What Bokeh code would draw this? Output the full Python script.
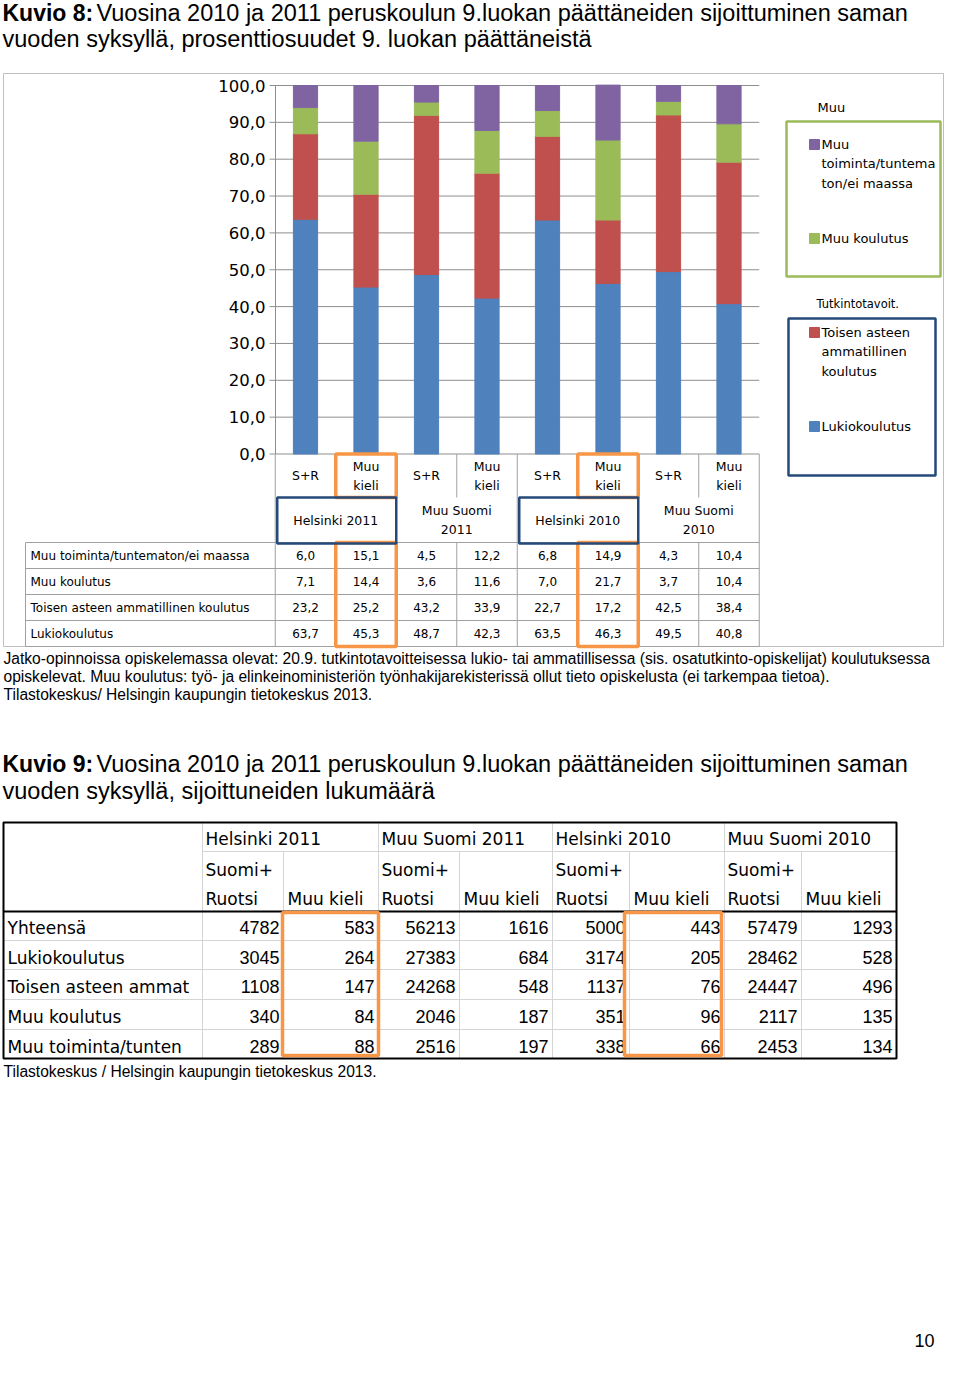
from bokeh.plotting import figure
from bokeh.models import Range1d, ColumnDataSource
from bokeh.core.properties import value
from bokeh.embed import file_html
from bokeh.resources import INLINE

# ---------------- Kuvio 8 data (percent) ----------------
groups8 = ["Helsinki 2011", "Muu Suomi 2011", "Helsinki 2010", "Muu Suomi 2010"]
bar_labels = ["S+R", "Muu kieli", "S+R", "Muu kieli", "S+R", "Muu kieli", "S+R", "Muu kieli"]
series_labels = ["Muu toiminta/tuntematon/ei maassa", "Muu koulutus",
                 "Toisen asteen ammatillinen koulutus", "Lukiokoulutus"]
muu_toiminta = [6.0, 15.1, 4.5, 12.2, 6.8, 14.9, 4.3, 10.4]
muu_koulutus = [7.1, 14.4, 3.6, 11.6, 7.0, 21.7, 3.7, 10.4]
toisen_aste = [23.2, 25.2, 43.2, 33.9, 22.7, 17.2, 42.5, 38.4]
lukio = [63.7, 45.3, 48.7, 42.3, 63.5, 46.3, 49.5, 40.8]
y_ticks = [0, 10, 20, 30, 40, 50, 60, 70, 80, 90, 100]

# ---------------- Kuvio 9 data (counts) ----------------
groups9 = ["Helsinki 2011", "Muu Suomi 2011", "Helsinki 2010", "Muu Suomi 2010"]
row_labels9 = ["Yhteensä", "Lukiokoulutus", "Toisen asteen ammat", "Muu koulutus", "Muu toiminta/tunten"]
yhteensa_n = [4782, 583, 56213, 1616, 5000, 443, 57479, 1293]
lukio_n = [3045, 264, 27383, 684, 3174, 205, 28462, 528]
toisen_n = [1108, 147, 24268, 548, 1137, 76, 24447, 496]
muu_koulutus_n = [340, 84, 2046, 187, 351, 96, 2117, 135]
muu_toiminta_n = [289, 88, 2516, 197, 338, 66, 2453, 134]

title8 = ["Kuvio 8:", "Vuosina 2010 ja 2011 peruskoulun 9.luokan päättäneiden sijoittuminen saman",
          "vuoden syksyllä, prosenttiosuudet 9. luokan päättäneistä"]
title9 = ["Kuvio 9:", "Vuosina 2010 ja 2011 peruskoulun 9.luokan päättäneiden sijoittuminen saman",
          "vuoden syksyllä, sijoittuneiden lukumäärä"]
notes8 = ["Jatko-opinnoissa opiskelemassa olevat: 20.9. tutkintotavoitteisessa lukio- tai ammatillisessa (sis. osatutkinto-opiskelijat) koulutuksessa",
          "opiskelevat. Muu koulutus: työ- ja elinkeinoministeriön työnhakijarekisterissä ollut tieto opiskelusta (ei tarkempaa tietoa).",
          "Tilastokeskus/ Helsingin kaupungin tietokeskus 2013."]
source9 = "Tilastokeskus / Helsingin kaupungin tietokeskus 2013."
page_no = "10"

# ---------------- colours ----------------
BLUE, RED, GREEN, PURPLE = "#4F81BD", "#C0504D", "#9BBB59", "#8064A2"
ORANGE, NAVY = "#F79646", "#254A7A"
GRID, TLINE, T2LINE = "#8E8E8E", "#A0A0A0", "#D4D4D4"

# ---------------- canvas ----------------
W, H = 944, 1358
p = figure(width=W, height=H, x_range=Range1d(0, W), y_range=Range1d(H, 0),
           output_backend="svg", toolbar_location=None, x_axis_type=None, y_axis_type=None,
           min_border=0)
p.outline_line_color = None
p.background_fill_color = "white"

# bar chart scales (extra ranges)
BAR_X0, BAR_STEP = 305.0, 60.5
PCT_Y0, PCT_Y100 = 453.5, 85.0
ppu = (PCT_Y0 - PCT_Y100) / 100.0
cat_start = -BAR_X0 / BAR_STEP
p.extra_x_ranges = {"cat": Range1d(cat_start, cat_start + W / BAR_STEP)}
p.extra_y_ranges = {"pct": Range1d(-(H - PCT_Y0) / ppu, 100 + PCT_Y100 / ppu)}


def px(i):
    return BAR_X0 + i * BAR_STEP


def txt(xs, ys, texts, size, font="DejaVu Sans", align="left", style="normal", **kw):
    def L(v):
        return list(v) if isinstance(v, (list, tuple)) else [v]
    xs, ys, texts = L(xs), L(ys), L(texts)
    n = max(len(xs), len(ys), len(texts))
    xs = xs * n if len(xs) == 1 else xs
    ys = ys * n if len(ys) == 1 else ys
    texts = texts * n if len(texts) == 1 else texts
    p.text(x=xs, y=ys, text=texts, text_font=value(font), text_font_size=f"{size}px",
           text_align=align, text_baseline="middle", text_color="#000000",
           text_font_style=style, **kw)


def seg(x0, y0, x1, y1, color, width=1.0, **kw):
    p.segment(x0=x0, y0=y0, x1=x1, y1=y1, line_color=color, line_width=width, **kw)


def box(l, r, t, b, color, width):
    p.quad(left=[l], right=[r], top=[t], bottom=[b], fill_color=None, line_color=color, line_width=width)


def fmt(v):
    return f"{v:.1f}".replace(".", ",")


# ---------------- titles ----------------
txt(2, 12, title8[0], 23, font="Liberation Sans", style="bold")
txt(96, 12, title8[1], 23.5, font="Liberation Sans")
txt(2, 38, title8[2], 23.5, font="Liberation Sans")

# chart outer border
box(3, 943, 73, 646, "#BFBFBF", 1)

# ---------------- gridlines, ticks, axis ----------------
seg([269] * len(y_ticks), y_ticks, [px(7.5)] * len(y_ticks), y_ticks, GRID, 1, y_range_name="pct")
seg([275], [0], [275], [100], GRID, 1, y_range_name="pct")
txt([265] * len(y_ticks), y_ticks, [fmt(t) for t in y_ticks], 16.5, y_range_name="pct", align="right")

# ---------------- stacked bars ----------------
src = ColumnDataSource(dict(x=list(range(len(lukio))), lukio=lukio, toisen=toisen_aste,
                            muu_koulutus=muu_koulutus, muu_toiminta=muu_toiminta))
p.vbar_stack(["lukio", "toisen", "muu_koulutus", "muu_toiminta"], x="x", width=0.4,
             color=[BLUE, RED, GREEN, PURPLE], source=src, x_range_name="cat", y_range_name="pct")

# ---------------- category / data table lines ----------------
n = len(bar_labels)
grp_b = [px(k - 0.5) for k in range(0, n + 1, 2)]
in_b = [px(k + 0.5) for k in range(0, n, 2)]
seg(grp_b, [PCT_Y0] * len(grp_b), grp_b, [646] * len(grp_b), TLINE)
seg(in_b, [PCT_Y0] * len(in_b), in_b, [497] * len(in_b), TLINE)
seg(in_b, [542] * len(in_b), in_b, [646] * len(in_b), TLINE)
row_lines = [542, 568, 594, 620, 646]
seg([25] * 5, row_lines, [px(7.5)] * 5, row_lines, TLINE)
seg([25], [542], [25], [646], TLINE)

# category labels
for i, lab in enumerate(bar_labels):
    parts = lab.split(" ")
    if len(parts) == 1:
        txt(i, 475, lab, 12.5, x_range_name="cat", align="center")
    else:
        txt([i, i], [466, 485], parts, 12.5, x_range_name="cat", align="center")
for g, name in enumerate(groups8):
    xc = 2 * g + 0.5
    if name.startswith("Muu"):
        a, b = name.rsplit(" ", 1)
        txt([xc, xc], [510, 529], [a, b], 12.5, x_range_name="cat", align="center")
    else:
        txt(xc, 520, name, 12.5, x_range_name="cat", align="center")

# data table
table_rows = [muu_toiminta, muu_koulutus, toisen_aste, lukio]
row_y = [555, 581, 607, 633]
for r, (lab, vals) in enumerate(zip(series_labels, table_rows)):
    txt(30, row_y[r], lab, 12)
    txt(list(range(n)), row_y[r], [fmt(v) for v in vals], 12, x_range_name="cat", align="center")

# highlight boxes
for g in (0, 2):
    i = 2 * g + 1
    box(px(i - 0.5), px(i + 0.5), PCT_Y0, 497, ORANGE, 3.5)
    box(px(i - 0.5), px(i + 0.5), 542, 646, ORANGE, 3.5)
    box(px(2 * g - 0.5) + 2, px(2 * g + 1.5), 497, 543, NAVY, 2.5)

# ---------------- legend ----------------
txt(817, 107, "Muu", 13)
box(786, 940, 121, 276, GREEN, 2.5)
box(788, 935, 318, 475, NAVY, 2.5)
txt(816, 303, "Tutkintotavoit.", 11.5)
s0 = series_labels[0]
legend_items = [
    ([s0[:3], s0[4:20], s0[20:]], PURPLE, 144),
    ([series_labels[1]], GREEN, 238),
    (["Toisen asteen", "ammatillinen", "koulutus"], RED, 332),
    ([series_labels[3]], BLUE, 426),
]
for lines, col, y in legend_items:
    p.quad(left=[809], right=[819], top=[y - 5], bottom=[y + 5], fill_color=col, line_color=col)
    txt([821] * len(lines), [y + 19.3 * k for k in range(len(lines))], lines, 13)

# ---------------- notes ----------------
txt([3] * 3, [658, 676, 694], notes8, 15.6, font="Liberation Sans")

# ---------------- Kuvio 9 title ----------------
txt(2, 763, title9[0], 23, font="Liberation Sans", style="bold")
txt(96, 763, title9[1], 23.5, font="Liberation Sans")
txt(2, 790, title9[2], 23.5, font="Liberation Sans")

# ---------------- Kuvio 9 table ----------------
cols = [3, 202, 283, 378, 459, 552, 629, 724, 801, 896]
T_TOP, T_HDR1, T_HDR, T_BOT = 822, 851, 911, 1058
rows_b = [940, 969, 999, 1029]
# header lines
seg(cols[1:-1:2], [T_TOP] * 4, cols[1:-1:2], [T_HDR] * 4, T2LINE)
seg(cols[2:-1:2], [T_HDR1] * 4, cols[2:-1:2], [T_HDR] * 4, T2LINE)
seg([cols[1]], [T_HDR1], [cols[-1]], [T_HDR1], T2LINE)
# body lines
seg(cols[1:-1], [T_HDR] * 8, cols[1:-1], [T_BOT] * 8, T2LINE)
seg([cols[0]] * 4, rows_b, [cols[-1]] * 4, rows_b, T2LINE)
seg([cols[0]], [T_HDR], [cols[-1]], [T_HDR], "#000000", 2)
box(cols[0], cols[-1], T_TOP, T_BOT, "#000000", 2)

for g, name in enumerate(groups9):
    c = cols[1 + 2 * g]
    txt(c + 3, 838, name, 17)
    txt([c + 3, c + 3], [869, 898], ["Suomi+", "Ruotsi"], 17)
    txt(cols[2 + 2 * g] + 4, 898, "Muu kieli", 17)

data9 = [yhteensa_n, lukio_n, toisen_n, muu_koulutus_n, muu_toiminta_n]
ry = [927, 957, 986, 1016, 1046]
for r, (lab, vals) in enumerate(zip(row_labels9, data9)):
    txt(7, ry[r], lab, 17)
    txt([c - 4 for c in cols[2:]], ry[r], [str(v) for v in vals], 18, font="Liberation Sans", align="right")

box(cols[2] - 1, cols[3], 912, 1055, ORANGE, 3.5)
box(cols[6] - 5, cols[7] - 3, 912, 1055, ORANGE, 3.5)

txt(3, 1071, source9, 15.6, font="Liberation Sans")
txt(934, 1340, page_no, 18, font="Liberation Sans", align="right")

open("out.html", "w").write(file_html(p, INLINE))
